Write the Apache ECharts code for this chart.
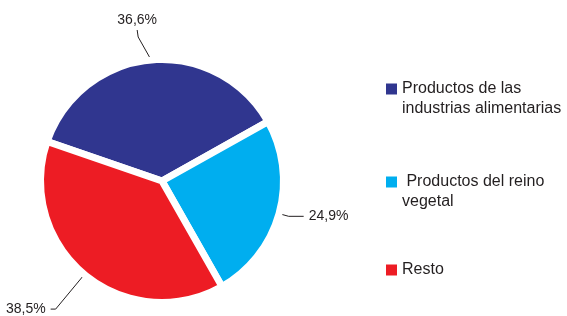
<!DOCTYPE html>
<html>
<head>
<meta charset="utf-8">
<script src="https://cdn.jsdelivr.net/npm/echarts@6/dist/echarts.min.js"></script>
<style>
  html, body { margin: 0; padding: 0; background: #fff; }
  #chart { width: 567px; height: 316px; }
</style>
</head>
<body>
<div id="chart"></div>
<script>
// categories and shares (%)
const categories = ['Productos de las industrias alimentarias', 'Productos del reino vegetal', 'Resto']
const values = [36.6, 24.9, 38.5]
const legendLabels = ['Productos de las\nindustrias alimentarias', ' Productos del reino\nvegetal', 'Resto']
const colors = ['#30368f', '#00aeef', '#ed1c24']

const chart = echarts.init(document.getElementById('chart'))

const fontFamily = '"Liberation Sans", Arial, sans-serif'

// one legend per item so each sits where the original has it
// (blank first line keeps the square next to the first text line)
const legendTops = [54, 147, 255]
const legends = categories.map((name, i) => ({
  left: 381,
  top: legendTops[i],
  itemWidth: 11,
  itemHeight: 11,
  icon: 'rect',
  selectedMode: false,
  itemStyle: { borderWidth: 0 },
  data: [name],
  formatter: () => legendLabels[i].indexOf('\n') >= 0 ? '\n' + legendLabels[i] : legendLabels[i],
  textStyle: {
    fontFamily: fontFamily,
    fontSize: 16,
    lineHeight: 20,
    color: '#231f20'
  }
}))

// leader line lengths per slice
const lineLen = [[24, 8], [10, 15], [45, 5]]

chart.setOption({
  animation: false,
  color: colors,
  legend: legends,
  series: [{
    type: 'pie',
    center: [162, 181],
    radius: 121.5,
    startAngle: 161,
    clockwise: true,
    avoidLabelOverlap: false,
    itemStyle: {
      borderColor: '#fff',
      borderWidth: 7
    },
    label: {
      show: true,
      position: 'outside',
      formatter: p => p.value.toFixed(1).replace('.', ',') + '%',
      fontFamily: fontFamily,
      fontSize: 14,
      color: '#231f20'
    },
    labelLine: {
      show: true,
      lineStyle: { color: '#231f20', width: 1 }
    },
    // top label: bend the leader upward instead of sideways
    labelLayout: function (params) {
      if (params.dataIndex !== 0 || !params.labelLinePoints) return {}
      const e = params.labelLinePoints[0]
      const bend = [e[0] - 13, e[1] - 23]
      const end = [bend[0] - 1, bend[1] - 7]
      return {
        x: end[0],
        y: end[1] - 3,
        align: 'center',
        verticalAlign: 'bottom',
        labelLinePoints: [e, bend, end]
      }
    },
    data: categories.map((name, i) => ({
      name: name,
      value: values[i],
      labelLine: { length: lineLen[i][0], length2: lineLen[i][1] }
    }))
  }]
})
</script>
</body>
</html>
